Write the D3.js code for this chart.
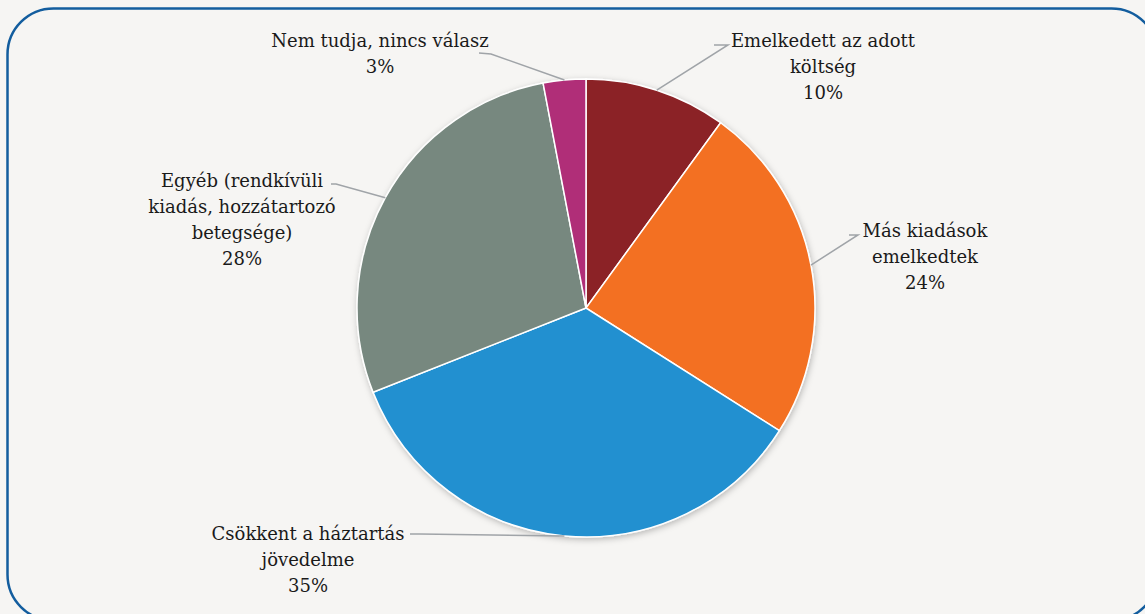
<!DOCTYPE html>
<html>
<head>
<meta charset="utf-8">
<script src="https://cdn.jsdelivr.net/npm/d3@7"></script>
<style>
  html, body { margin: 0; padding: 0; background: #f6f5f3; }
  svg { display: block; }
  .lbl { font-family: 'DejaVu Serif', serif; }
</style>
</head>
<body>
<div id="chart"></div>
<script>
const categories = [
  'Emelkedett az adott költség',
  'Más kiadások emelkedtek',
  'Csökkent a háztartás jövedelme',
  'Egyéb (rendkívüli kiadás, hozzátartozó betegsége)',
  'Nem tudja, nincs válasz'
];
const values = [10, 24, 35, 28, 3];
const colors = ['#8b2125', '#f37021', '#2190d0', '#77887f', '#b02e78'];

// label text lines and where they sit
const labelLines = [
  ['Emelkedett az adott', 'költség', '10%'],
  ['Más kiadások', 'emelkedtek', '24%'],
  ['Csökkent a háztartás', 'jövedelme', '35%'],
  ['Egyéb (rendkívüli', 'kiadás, hozzátartozó', 'betegsége)', '28%'],
  ['Nem tudja, nincs válasz', '3%']
];
const labelPos = [
  { x: 823, y: 41, elbow: [728, 45], end: [714, 45] },
  { x: 925, y: 231, elbow: [858, 235], end: [849, 235] },
  { x: 308, y: 534, elbow: [420, 534], end: [410, 534] },
  { x: 242, y: 181, elbow: [336, 184], end: [331, 184] },
  { x: 380, y: 41, elbow: [491, 54], end: [479, 53] }
];

const width = 1145;
const height = 614;
const cx = 586, cy = 308, radius = 229;

const svg = d3.select('#chart')
  .append('svg')
  .attr('width', width)
  .attr('height', height);

const defs = svg.append('defs');
const shadow = defs.append('filter').attr('id', 'shadow')
  .attr('x', '-10%').attr('y', '-10%').attr('width', '120%').attr('height', '120%');
shadow.append('feDropShadow')
  .attr('dx', 1).attr('dy', 2).attr('stdDeviation', 3)
  .attr('flood-color', '#000').attr('flood-opacity', 0.25);

// frame
svg.append('rect')
  .attr('x', 7.5).attr('y', 8.5)
  .attr('width', 1150).attr('height', 612)
  .attr('rx', 46).attr('ry', 46)
  .attr('fill', '#f6f5f3')
  .attr('stroke', '#135d9e')
  .attr('stroke-width', 2.5);

const data = categories.map((c, i) => ({ name: c, value: values[i], i }));

const pie = d3.pie().sort(null).value(d => d.value);
const arc = d3.arc().innerRadius(0).outerRadius(radius);
const arcs = pie(data);

const g = svg.append('g').attr('transform', `translate(${cx},${cy})`);

g.append('g')
  .attr('filter', 'url(#shadow)')
  .selectAll('path')
  .data(arcs)
  .join('path')
    .attr('d', arc)
    .attr('fill', d => colors[d.data.i])
    .attr('stroke', '#fff')
    .attr('stroke-width', 1.5);

// leader lines
const edge = d3.arc().innerRadius(radius).outerRadius(radius);
svg.append('g')
  .selectAll('polyline')
  .data(arcs)
  .join('polyline')
    .attr('points', d => {
      const p = edge.centroid(d);
      const l = labelPos[d.data.i];
      return [[p[0] + cx, p[1] + cy], l.elbow, l.end].map(q => q.join(',')).join(' ');
    })
    .attr('fill', 'none')
    .attr('stroke', '#a0a4a8')
    .attr('stroke-width', 1.5);

// labels
const labels = svg.append('g')
  .attr('class', 'lbl')
  .attr('font-size', '18px')
  .attr('fill', '#1a1a1a')
  .attr('text-anchor', 'middle');

labels.selectAll('text')
  .data(arcs)
  .join('text')
    .attr('x', d => labelPos[d.data.i].x)
    .attr('y', d => labelPos[d.data.i].y)
    .selectAll('tspan')
    .data(d => labelLines[d.data.i].map(t => ({ t, x: labelPos[d.data.i].x })))
    .join('tspan')
      .attr('x', d => d.x)
      .attr('dy', (d, j) => j === 0 ? '0.35em' : 26)
      .text(d => d.t);
</script>
</body>
</html>
